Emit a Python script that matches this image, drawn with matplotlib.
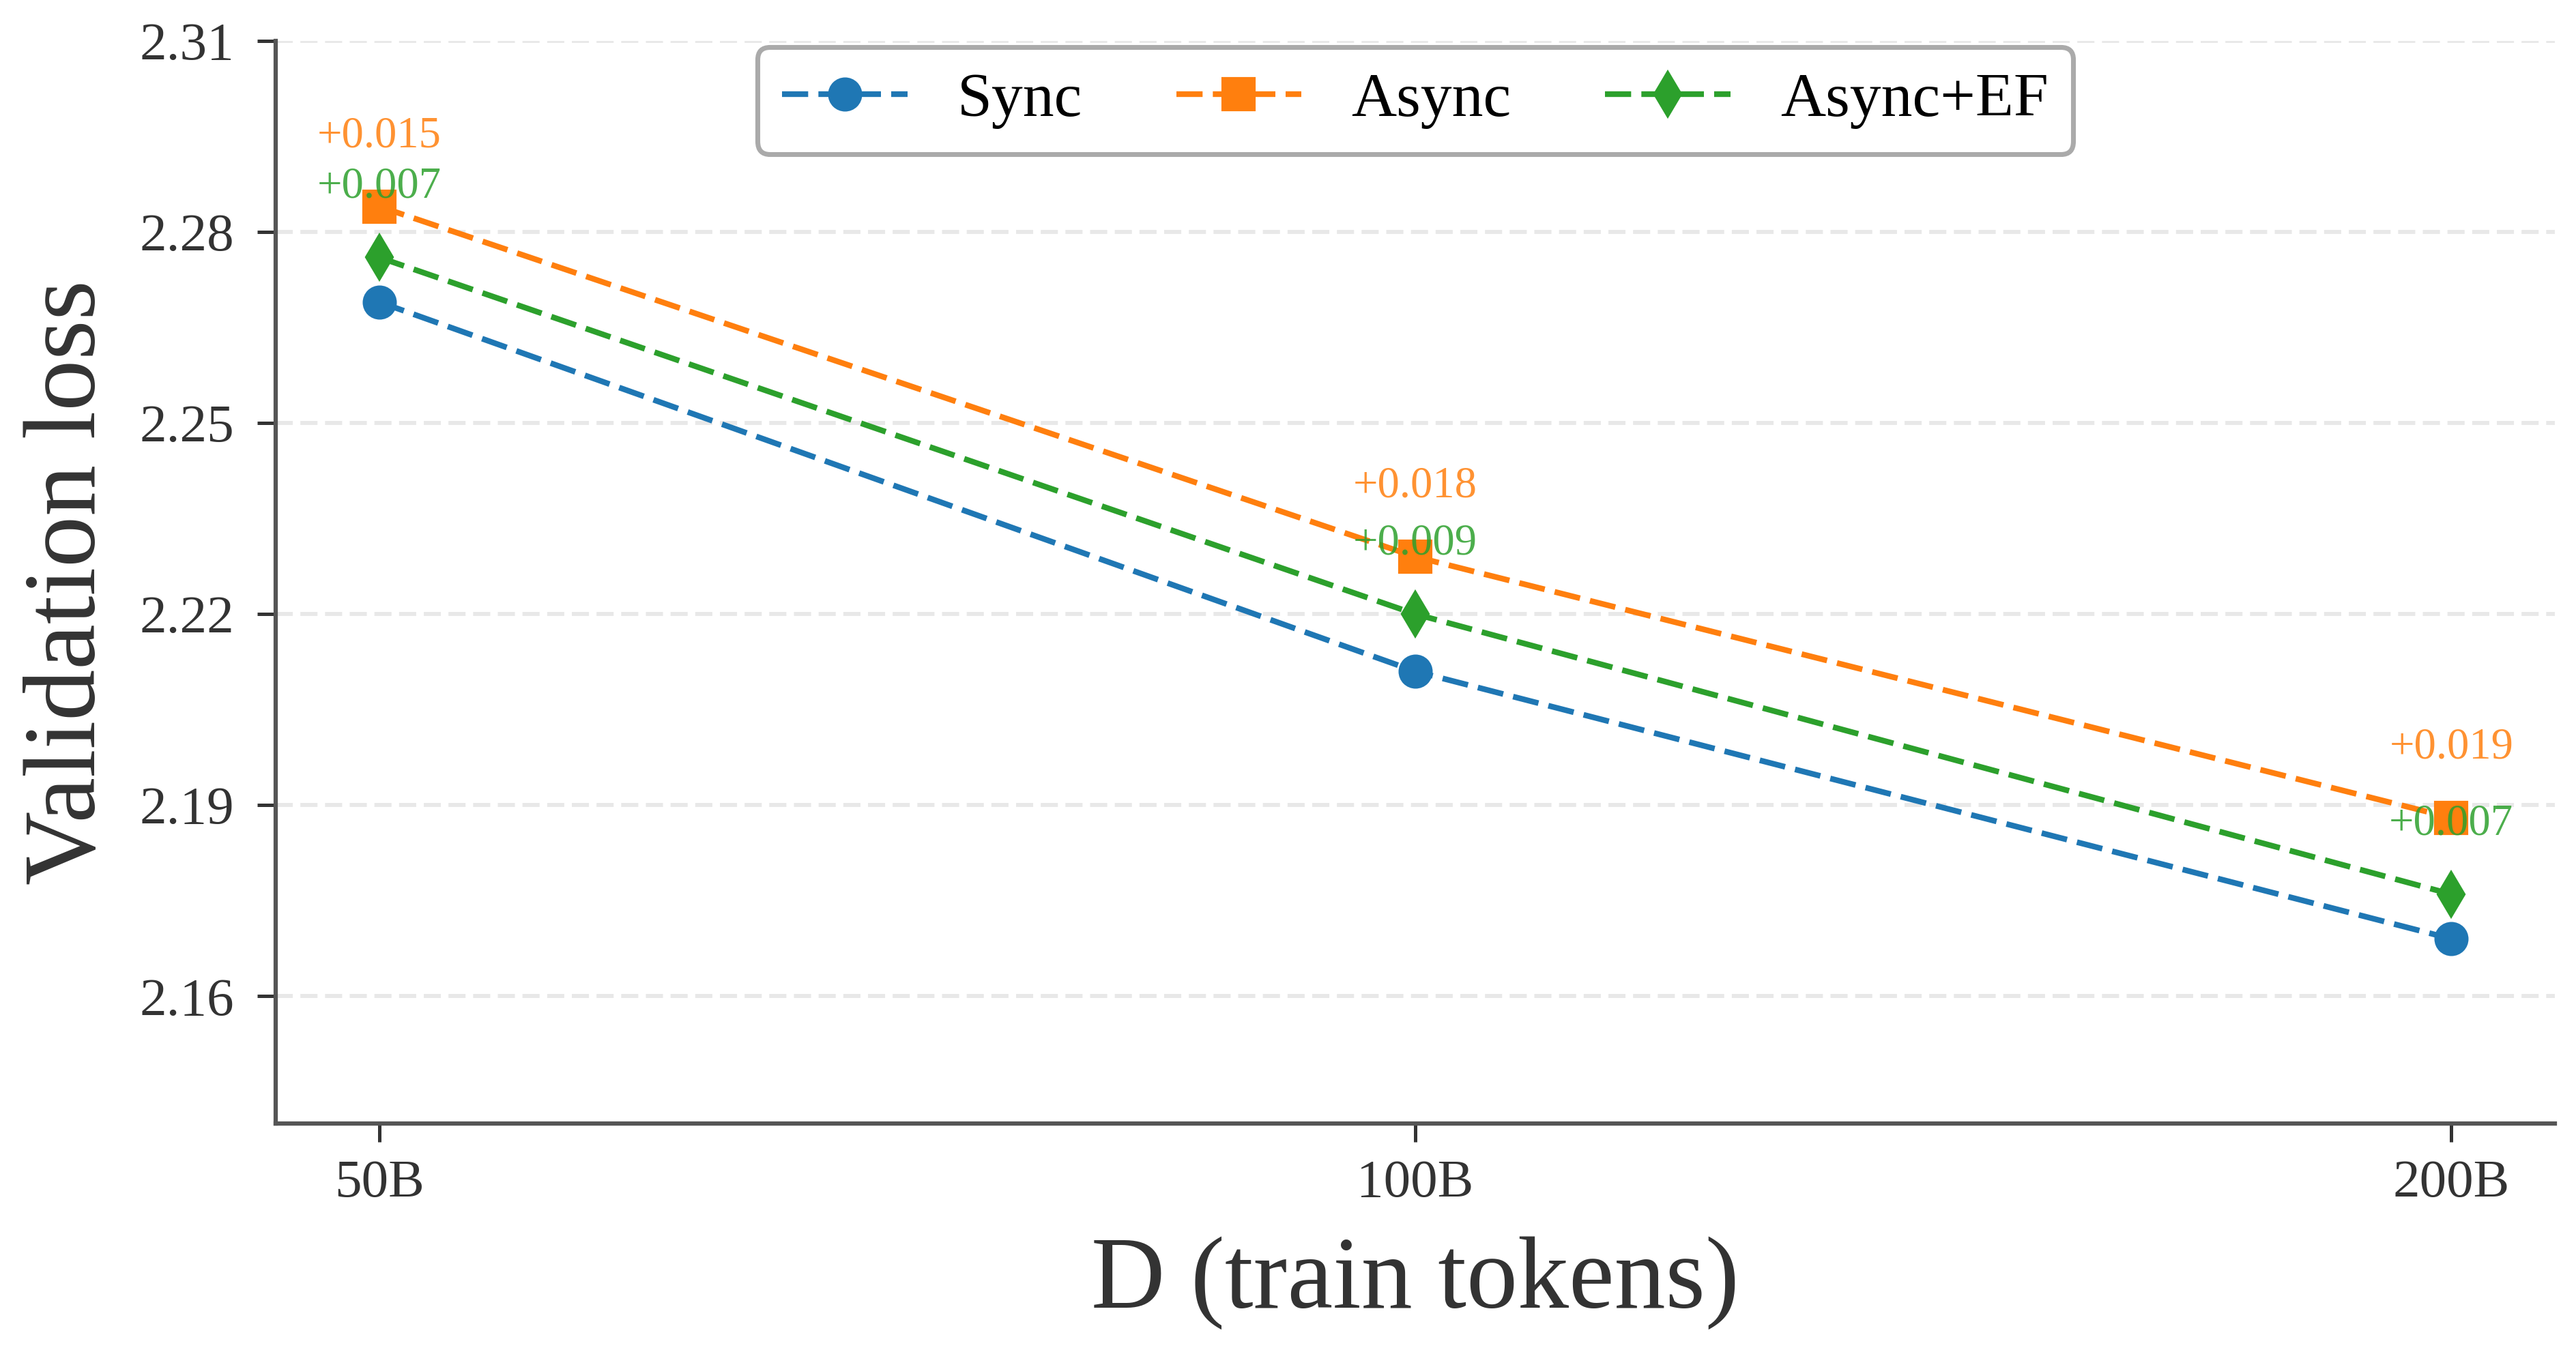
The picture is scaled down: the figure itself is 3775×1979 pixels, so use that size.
import numpy as np
import matplotlib
matplotlib.use('Agg')
import matplotlib.pyplot as plt

# data
tokens = ['50B', '100B', '200B']
sync_loss = [2.269, 2.211, 2.169]
async_loss = [2.284, 2.229, 2.188]
async_ef_loss = [2.276, 2.220, 2.176]

series = [
    ('Sync', sync_loss, '#1f77b4', 'o'),
    ('Async', async_loss, '#ff7f0e', 's'),
    ('Async+EF', async_ef_loss, '#2ca02c', 'd'),
]

plt.rcParams['font.family'] = ['Liberation Serif', 'DejaVu Serif']
text_color = '#333333'

fig = plt.figure(figsize=(3775 / 300, 1979 / 300), dpi=300)
ax = fig.add_axes([0.107, 0.1678, 0.8848, 0.8019])

x = np.arange(len(tokens))
for name, vals, color, marker in series:
    ms = 11 if marker != 'd' else 10.7
    ax.plot(x, vals, color=color, marker=marker, markersize=ms,
            linewidth=2.0, linestyle=(0, (4.6, 1.8)), label=name)

# gap to Sync, written above the Async / Async+EF points
for name, vals, color, marker in series[1:]:
    for xi, v, base in zip(x, vals, sync_loss):
        ax.annotate(f'+{v - base:.3f}', xy=(xi, v), xytext=(0, 21),
                    textcoords='offset points', ha='center', va='baseline',
                    fontsize=15.5, color=color, alpha=0.85)

ax.set_xlim(-0.1, 2.1)
ax.set_ylim(2.14, 2.31)
ax.set_xticks(x)
ax.set_xticklabels(tokens)
yticks = np.arange(2.16, 2.3101, 0.03)
ax.set_yticks(yticks)
ax.set_yticklabels([f'{t:.2f}' for t in yticks])

ax.tick_params(axis='both', labelsize=19, colors=text_color, length=6.5, width=1.2)
ax.tick_params(axis='y', pad=8)
ax.tick_params(axis='x', pad=6)

ax.set_xlabel('D (train tokens)', fontsize=36, color=text_color, labelpad=10)
ax.set_ylabel('Validation loss', fontsize=36, color=text_color, labelpad=8)

ax.yaxis.grid(True, color='#e8e8e8', linewidth=1.4, linestyle=(0, (4.3, 1.9)))
ax.set_axisbelow(True)

for side in ['top', 'right']:
    ax.spines[side].set_visible(False)
for side in ['left', 'bottom']:
    ax.spines[side].set_color('#555555')
    ax.spines[side].set_linewidth(1.5)

leg = ax.legend(loc='upper center', bbox_to_anchor=(0.5, 1.0), ncol=3,
                fontsize=22, frameon=True, fancybox=True, columnspacing=1.5,
                borderaxespad=0.1, framealpha=1.0)
leg.get_frame().set_edgecolor('#aaaaaa')
leg.get_frame().set_linewidth(1.7)

fig.savefig('out.png', dpi=300)
